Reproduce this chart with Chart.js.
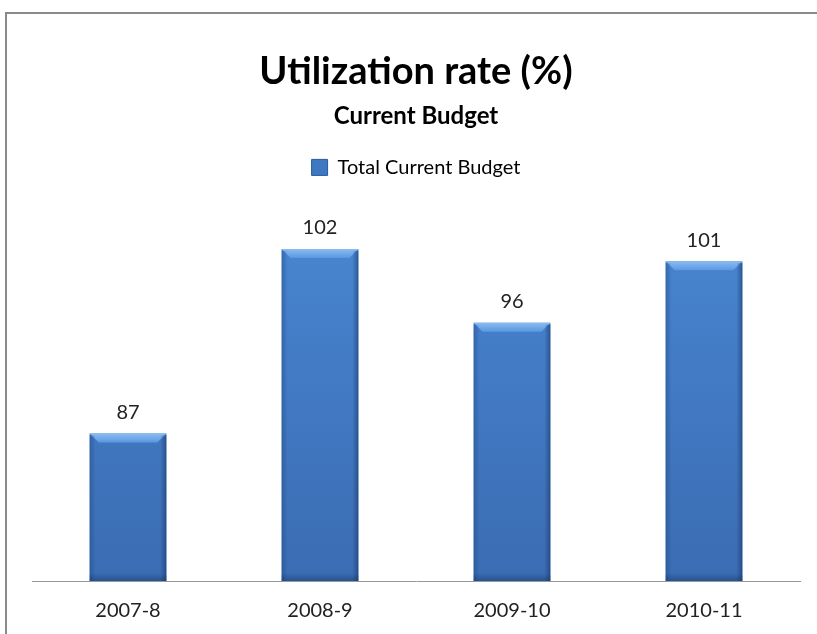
<!DOCTYPE html>
<html>
<head>
<meta charset="utf-8">
<script src="https://cdn.jsdelivr.net/npm/chart.js@4"></script>
<style>
  html, body { margin: 0; padding: 0; background: #fff; overflow: hidden; }
  #frame {
    position: absolute; left: 5px; top: 12px; width: 840px; height: 650px;
    border-top: 2px solid #8a8a8a; border-left: 2px solid #8a8a8a;
  }
  #wrap { position: absolute; left: 0; top: 0; width: 817px; height: 634px; }
</style>
</head>
<body>
<div id="frame"></div>
<div id="wrap"><canvas id="budgetChart" width="817" height="634"></canvas></div>
<script>
  const years = ['2007-8', '2008-9', '2009-10', '2010-11'];
  const utilization = [87, 102, 96, 101];
  const yMin = 75;
  const yMax = 107;

  const FONT = "Lato, 'Open Sans', sans-serif";

  function barFill(context) {
    const chart = context.chart;
    const area = chart.chartArea;
    if (!area) return '#4a84cc';
    const g = chart.ctx.createLinearGradient(0, area.top, 0, area.bottom);
    g.addColorStop(0, '#4a88d4');
    g.addColorStop(1, '#3a6cb2');
    return g;
  }

  // value labels and the bevelled edges of each bar
  const barDecor = {
    id: 'barDecor',
    afterDatasetsDraw(chart) {
      const ctx = chart.ctx;
      const meta = chart.getDatasetMeta(0);
      meta.data.forEach((bar, i) => {
        const half = bar.width / 2;
        const left = bar.x - half, right = bar.x + half;
        const top = bar.y, bottom = Math.min(bar.base, chart.chartArea.bottom);
        const bevel = 9;
        ctx.save();
        // top bevel
        let g = ctx.createLinearGradient(0, top, 0, top + bevel);
        g.addColorStop(0, '#8cbcf2');
        g.addColorStop(1, '#5a98e0');
        ctx.fillStyle = g;
        ctx.beginPath();
        ctx.moveTo(left, top);
        ctx.lineTo(right, top);
        ctx.lineTo(right - bevel, top + bevel);
        ctx.lineTo(left + bevel, top + bevel);
        ctx.closePath();
        ctx.fill();
        // side shading
        g = ctx.createLinearGradient(left, 0, left + 6, 0);
        g.addColorStop(0, 'rgba(30,70,130,0.45)');
        g.addColorStop(1, 'rgba(30,70,130,0)');
        ctx.fillStyle = g;
        ctx.fillRect(left, top + 2, 6, bottom - top - 2);
        g = ctx.createLinearGradient(right - 6, 0, right, 0);
        g.addColorStop(0, 'rgba(20,50,100,0)');
        g.addColorStop(1, 'rgba(20,50,100,0.55)');
        ctx.fillStyle = g;
        ctx.fillRect(right - 6, top + 2, 6, bottom - top - 2);
        // bottom shading
        g = ctx.createLinearGradient(0, bottom - 8, 0, bottom);
        g.addColorStop(0, 'rgba(20,50,100,0)');
        g.addColorStop(1, 'rgba(20,50,100,0.45)');
        ctx.fillStyle = g;
        ctx.fillRect(left, bottom - 8, bar.width, 8);

        ctx.fillStyle = '#222';
        ctx.font = '20px ' + FONT;
        ctx.textAlign = 'center';
        ctx.textBaseline = 'middle';
        ctx.fillText(String(utilization[i]), bar.x, top - 21);
        ctx.restore();
      });
    }
  };

  new Chart(document.getElementById('budgetChart'), {
    type: 'bar',
    data: {
      labels: years,
      datasets: [{
        label: 'Total Current Budget',
        data: utilization,
        backgroundColor: barFill,
        borderWidth: 0,
        barPercentage: 0.8,
        categoryPercentage: 0.5
      }]
    },
    options: {
      responsive: false,
      animation: false,
      layout: { padding: { left: 32, right: 17, top: 49, bottom: -7 } },
      plugins: {
        title: {
          display: true,
          text: 'Utilization rate (%)',
          color: '#000',
          font: { family: FONT, size: 38, weight: 'bold' },
          padding: { top: 0, bottom: 7 }
        },
        subtitle: {
          display: true,
          text: 'Current Budget',
          color: '#000',
          font: { family: FONT, size: 24, weight: 'bold' },
          padding: { top: 0, bottom: 17 }
        },
        legend: {
          display: true,
          labels: {
            color: '#333',
            font: { family: FONT, size: 20 },
            boxWidth: 16,
            boxHeight: 16,
            generateLabels() {
              return [{ text: 'Total Current Budget', fillStyle: '#3f78c2', strokeStyle: '#2b5a99', lineWidth: 1, datasetIndex: 0 }];
            }
          }
        },
        tooltip: { enabled: false }
      },
      scales: {
        x: {
          grid: { display: false, drawTicks: false },
          border: { display: true, color: '#999', width: 1 },
          ticks: { color: '#222', font: { family: FONT, size: 20 }, padding: 18 }
        },
        y: {
          display: false,
          min: yMin,
          max: yMax
        }
      }
    },
    plugins: [barDecor]
  });
</script>
</body>
</html>
